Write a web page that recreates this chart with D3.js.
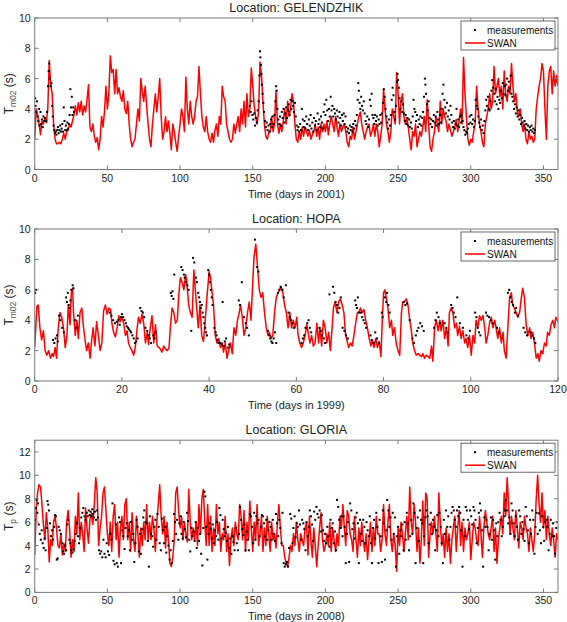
<!DOCTYPE html>
<html><head><meta charset="utf-8">
<script src="https://cdn.jsdelivr.net/npm/d3@7"></script>
<style>
body{margin:0;background:#fff;}
svg{display:block;font-family:"Liberation Sans",Arial,Helvetica,sans-serif;}
</style></head>
<body><svg id="chart" width="567" height="622"></svg>
<script>
// ---------------- DATA ----------------
const titles = ["Location: GELENDZHIK", "Location: HOPA", "Location: GLORIA"];
const xLabels = ["Time (days in 2001)", "Time (days in 1999)", "Time (days in 2008)"];
const yLabelSub = ["m02", "m02", "p"];
const xTicks1 = [0,50,100,150,200,250,300,350];
const xTicks2 = [0,20,40,60,80,100,120];
const xTicks3 = [0,50,100,150,200,250,300,350];
const yTicks1 = [0,2,4,6,8,10];
const yTicks2 = [0,2,4,6,8,10];
const yTicks3 = [0,2,4,6,8,10,12];
const legendLabels = ["measurements", "SWAN"];

// SWAN, Gelendzhik 2001, one value per day (day 0..360)
const swan1 = [
2.0,4.0,3.6,3.0,2.3,3.2,3.0,3.4,3.1,4.0,
7.2,5.6,5.0,3.0,2.0,1.7,1.7,1.8,1.7,2.0,
2.4,2.0,2.5,2.6,3.0,2.8,3.2,3.6,4.2,3.6,
4.4,3.8,4.5,3.6,4.2,3.8,4.6,5.6,2.8,2.5,
3.0,2.2,1.8,2.1,1.3,2.0,3.5,2.8,3.8,5.5,
4.0,5.0,7.5,6.4,6.6,5.0,6.6,5.0,5.4,4.8,
4.5,5.2,4.0,3.7,4.5,3.0,2.0,1.5,1.8,2.0,
3.0,4.0,3.2,6.0,5.2,4.5,5.5,4.2,3.0,2.0,
1.5,3.0,4.0,5.0,3.8,4.8,6.0,3.5,2.0,2.5,
3.5,2.5,3.2,2.4,1.3,3.0,2.5,1.8,1.2,2.2,
3.0,4.0,3.5,2.5,6.1,4.0,3.0,4.5,3.5,3.0,
3.5,4.5,4.8,6.8,5.0,3.5,2.8,2.5,3.5,2.5,
2.0,1.8,2.4,1.8,2.6,3.0,2.2,3.5,3.0,5.5,
4.8,4.5,3.0,2.5,2.0,1.8,2.0,3.0,2.4,3.0,
3.5,2.5,4.0,3.0,4.5,2.8,5.0,3.5,4.0,6.7,
5.5,4.2,3.5,3.0,3.8,7.1,6.2,4.5,3.0,2.2,
2.0,2.4,2.5,3.5,2.5,3.0,5.2,3.0,2.4,3.0,
2.5,3.2,4.0,3.0,4.5,3.5,4.0,5.0,4.5,3.0,
2.0,1.8,2.5,2.0,2.8,2.2,2.8,2.5,2.2,2.6,
2.0,2.3,2.5,3.0,2.2,2.8,2.0,3.0,2.5,3.0,
2.5,3.2,2.3,3.0,3.5,3.0,2.5,3.5,2.8,2.2,
3.0,2.5,2.8,3.0,2.5,1.8,1.5,2.2,2.0,2.8,
2.0,2.5,3.0,3.5,3.8,3.0,2.5,2.0,2.5,2.8,
3.0,2.2,2.5,3.0,2.2,3.0,2.5,1.5,2.2,3.0,
5.3,4.0,3.0,2.5,1.8,2.5,4.0,3.5,3.0,6.4,
5.0,3.0,4.5,5.0,3.5,3.0,3.4,2.8,2.0,1.3,
2.5,2.2,3.0,1.5,2.0,2.5,2.2,2.8,3.5,2.5,
4.6,3.0,1.5,1.2,2.0,2.5,3.5,3.0,2.5,4.5,
3.0,4.0,3.5,3.2,2.5,3.0,2.6,2.2,2.5,2.8,
3.3,2.5,3.2,4.0,3.0,7.4,5.0,3.5,2.0,1.6,
2.0,1.8,2.5,3.0,5.5,4.0,3.0,2.5,1.8,1.5,
3.0,3.5,4.0,5.0,4.0,4.5,6.8,5.0,5.5,6.0,
4.8,5.5,4.0,6.5,5.0,4.5,5.5,5.0,7.0,5.5,
4.5,5.0,3.8,3.5,4.0,3.0,2.5,3.0,2.0,1.7,
2.5,2.0,2.2,1.8,2.0,4.0,4.8,5.5,6.0,7.0,
6.5,4.0,2.0,5.5,6.5,6.8,5.0,6.5,5.5,6.2,5.5];

// Measurements, Gelendzhik [day, Tm02]
const meas1 = [
[0.3,4.7],[0.6,4.2],[1,3.8],[1.5,4.5],[2,3.5],[2.5,3.2],[3,4.0],[3.3,2.9],[4,3.8],[4.5,3.0],[5,3.3],[5.5,2.8],[6,3.5],[6.5,3.2],[7,3.4],[8,3.2],[8.5,3.8],
[9.2,5.5],[9.6,6.5],[10,7.0],[10.4,6.0],[11,5.5],[11.5,5.7],[12,4.2],
[12.5,3.5],[13,2.9],[13.5,2.6],[14,2.4],[14.5,2.5],[15,2.3],[15.5,2.6],[16,2.8],[16.5,2.4],[17,2.6],[17.5,2.9],[18,2.5],[18.5,2.7],[19,3.0],[19.5,2.5],[20,4.1],[20.5,3.2],[21,2.6],[21.5,2.9],[22,2.6],[22.5,3.1],[23,2.7],[23.5,3.0],[24,3.6],[24.5,5.3],[25,4.1],[25.5,4.8],[26,3.6],[26.5,4.1],[27,3.8],
[148,4.2],[148.6,3.8],[149.2,4.5],[149.8,3.6],[150.4,3.3],[151,3.7],[151.6,2.9],[152.2,3.4],[152.8,3.1],[153.4,3.9],[154,4.5],[154.6,6.2],[155,7.8],[155.3,7.4],[155.6,6.9],[156,6.3],[156.4,5.6],[156.8,5.0],[157.3,4.4],[157.8,3.8],[158.4,3.2],[159,2.8],[159.6,3.1],[160.2,2.6],[160.8,2.9],[161.4,2.5],[162,3.0],[162.6,3.3],[163.2,2.8],[163.8,3.5],[164.4,3.0],[165,3.6],[165.6,4.5],[166.1,5.5],[166.5,5.2],[167,4.0],[167.6,3.3],[168.2,3.0],[168.8,3.5],[169.4,2.9],[170,3.8],[170.6,3.4],[171.2,4.0],[171.8,3.1],[172.4,3.7],[173,4.1],[173.6,3.4],[174.2,3.9],[174.8,4.3],[175.4,3.6],[176,4.6],[176.6,4.0],[177.2,4.5],[177.8,4.2],[178.4,3.8],[179,4.4],[179.6,3.5],
[180.2,2.9],[180.8,2.6],[181.4,2.8],[182,2.5],[182.6,3.0],[183.2,2.6],[183.8,4.0],[184.4,3.3],[185,2.8],[185.6,3.2],[186.2,2.7],[186.8,3.5],[187.4,3.0],[188,2.6],[188.6,3.3],[189.2,2.9],[189.8,3.6],[190.4,2.7],[191,3.1],[191.6,2.5],[192.2,3.4],[192.8,2.9],[193.4,3.2],[194,2.6],[194.6,3.7],[195.2,3.0],[195.8,3.3],[196.4,2.8],[197,3.5],[197.6,3.1],[198.2,2.7],[198.8,3.8],[199.4,4.3],[200,3.6],[200.6,4.6],[201.2,3.9],[201.8,3.2],[202.4,4.0],[203,3.5],[203.6,4.8],[204.2,3.9],[204.8,4.2],[205.4,3.5],[206,4.0],[206.6,3.7],[207.2,3.3],[207.8,3.9],[208.4,3.5],[209,3.1],[209.6,3.8],[210.2,3.4],[210.8,2.9],[211.4,3.6],[212,3.2],[212.6,3.7],[213.2,3.0],[213.8,3.5],[214.4,2.8],[215,2.5],[215.6,2.7],[216.2,2.4],[216.8,2.9],[217.4,2.6],[218,2.8],[218.6,2.5],[219.2,3.0],[219.8,2.7],
[220.4,3.2],[221,2.9],[221.6,3.6],[222.2,4.6],[222.6,5.7],[223,5.2],[223.5,4.4],[224,4.0],[224.6,4.8],[225.2,4.2],[225.8,3.9],[226.4,4.5],[227,3.7],[227.6,3.2],[228.2,3.0],[228.8,3.5],[229.4,2.8],[230,3.3],[230.6,4.6],[231.2,4.2],[231.8,5.0],[232.4,3.6],[233,3.4],[233.6,3.0],[234.2,3.6],[234.8,3.2],[235.4,3.5],[236,2.9],[236.6,3.3],[237.2,3.0],[237.8,3.6],[238.4,3.1],[239,3.7],[239.6,4.4],[240.2,5.3],[240.8,4.8],[241.4,4.0],[242,3.5],[242.6,3.1],[243.2,2.7],[243.8,3.3],[244.4,2.9],[245,3.6],[245.6,4.6],[246.2,5.4],[246.8,4.9],[247.4,3.8],[248,3.3],[248.6,4.2],[249.2,5.8],[249.6,6.3],[250,5.9],[250.5,5.4],[251,4.7],[251.6,4.0],[252.2,4.5],[252.8,3.8],[253.4,4.3],[254,3.7],[254.6,3.2],[255.2,3.6],[255.8,3.0],[256.4,3.4],[257,2.9],[257.6,3.3],[258.2,2.8],[258.8,3.1],[259.4,2.7],
[260,3.5],[260.6,4.6],[261.2,4.0],[261.8,3.8],[262.4,3.2],[263,3.6],[263.6,2.8],[264.2,3.3],[264.8,3.0],[265.4,3.5],[266,2.9],[266.6,3.4],[267.2,3.8],[267.8,4.8],[268.4,6.0],[268.8,5.6],[269.2,5.0],[269.8,4.3],[270.4,3.9],[271,4.5],[271.6,3.4],[272.2,3.0],[272.8,3.3],[273.4,2.8],[274,3.2],[274.6,3.6],[275.2,3.1],[275.8,3.5],[276.4,2.9],[277,3.8],[277.6,3.3],[278.2,3.0],[278.8,3.6],[279.4,3.1],[280,4.0],[280.6,5.0],[281.2,5.6],[281.8,4.6],[282.4,4.1],[283,3.7],[283.6,4.4],[284.2,3.5],[284.8,3.9],[285.4,3.3],[286,4.2],[286.6,3.6],[287.2,3.1],[287.8,2.8],[288.4,3.2],[289,2.7],[289.6,3.0],[290.2,4.0],[290.8,2.9],[291.4,3.3],[292,2.8],[292.6,3.5],[293.2,3.1],[293.8,3.6],[294.4,3.2],[295,2.8],[295.6,2.6],[296.2,2.3],[296.8,2.5],[297.4,2.4],[298,2.7],[298.6,3.0],[299.2,3.5],[299.8,3.1],
[300.4,3.6],[301,3.0],[301.6,3.3],[302.2,2.8],[302.8,3.2],[303.4,4.6],[304,4.2],[304.6,4.0],[305.2,3.5],[305.8,3.1],[306.4,2.8],[307,3.3],[307.6,2.6],[308.2,2.9],[308.8,2.4],[309.4,3.2],[310,3.9],[310.6,4.6],[311.2,4.2],[311.8,4.8],[312.4,4.0],[313,3.9],[313.6,4.5],[314.2,5.2],[314.8,5.9],[315.4,5.4],[316,5.0],[316.6,4.5],[317.2,5.3],[317.8,4.3],[318.4,4.8],[319,4.0],[319.6,4.6],[320.2,4.4],[320.8,5.2],[321.4,4.7],[322,5.7],[322.6,5.0],[323.2,5.5],[323.8,4.9],[324.4,5.6],[325,6.0],[325.6,5.2],[326.2,5.8],[326.8,5.4],[327.4,6.2],[328,5.0],[328.6,4.8],[329.2,4.5],[329.8,4.0],[330.4,4.3],[331,3.7],[331.6,4.1],[332.2,3.5],[332.8,3.9],[333.4,3.3],[334,3.6],[334.6,3.0],[335.2,3.4],[335.8,3.1],[336.4,2.9],[337,3.2],[337.6,2.7],[338.2,3.0],[338.8,2.6],[339.4,2.9],[340,2.5],[340.6,2.8],[341.2,2.6],[341.8,2.9],[342.4,2.5],[343,2.7],[343.6,2.4],[344.2,2.6]];

// SWAN, Hopa 1999 [day, Tm02]
const swan2 = [
[0,2.2],[0.5,4.9],[0.8,5.0],[1.2,3.5],[1.6,2.7],[2,3.3],[2.4,2.0],[2.8,1.7],[3.2,2.0],[3.6,1.5],[4,1.8],[4.3,1.6],[4.7,2.2],[5,1.5],[5.4,3.5],[5.8,4.5],[6.2,4.2],[6.6,3.5],[7,2.2],[7.4,3.0],[7.7,5.0],[8.1,3.7],[8.4,5.8],[8.7,6.1],[8.9,4.5],[9.3,3.0],[9.7,4.0],[10,2.8],[10.4,4.5],[10.8,4.8],[11.2,3.5],[11.6,2.6],[11.9,2.0],[12.3,2.5],[12.7,1.5],[13,2.5],[13.4,3.5],[13.8,2.3],[14.2,3.9],[14.6,3.0],[15,2.0],[15.4,2.5],[15.8,4.6],[16.2,5.0],[16.6,4.4],[17,4.8],[17.4,4.7],[17.7,3.8],[18.1,3.2],[18.5,2.9],[18.9,3.5],[19.3,4.3],[19.6,3.9],[20,4.2],
[20.4,3.8],[20.8,3.0],[21.2,3.3],[21.5,2.5],[21.9,2.2],[22.3,2.0],[22.7,1.7],[23.1,2.3],[23.5,3.5],[23.8,4.2],[24.2,3.8],[24.6,4.4],[25,3.8],[25.4,2.5],[25.8,3.2],[26.1,2.4],[26.5,3.5],[26.9,4.3],[27.3,2.5],[27.7,3.7],[28.1,2.3],[28.5,2.2],[28.8,2.1],[29.2,1.9],[29.6,2.3],[30,2.1],[30.4,2.0],[30.8,2.2],[31.1,3.5],[31.5,4.8],[31.9,4.5],[32.3,3.8],[32.7,4.0],[33,5.5],[33.4,6.8],[33.8,6.5],[34.2,6.0],[34.6,7.0],[34.9,6.5],[35.3,5.0],[35.7,4.5],[36.1,4.2],[36.5,7.3],[37.1,5.0],[37.5,3.5],[37.9,5.0],[38.3,3.0],[38.7,2.6],[39.1,4.0],[39.5,5.5],[40,7.2],[40.3,6.8],
[41,5.0],[41.4,3.0],[41.8,2.5],[42.2,2.8],[42.6,2.2],[43,2.5],[43.3,1.9],[43.7,2.5],[44.1,1.5],[44.5,2.0],[44.9,2.5],[45.3,1.8],[45.7,3.5],[46.1,3.0],[46.5,4.0],[46.9,4.5],[47.2,5.0],[47.6,4.2],[48,3.0],[48.4,3.5],[48.8,4.5],[49.2,5.2],[49.6,4.0],[50,6.5],[50.3,8.2],[50.7,9.0],[51.1,7.5],[51.5,6.0],[51.9,5.5],[52.3,5.8],[52.7,4.5],[53.1,3.5],[53.5,3.0],[53.8,3.2],[54.2,2.8],[54.6,3.0],[55,4.5],[55.4,5.5],[55.8,5.8],[56.2,6.0],[56.5,6.2],[56.9,5.8],[57.3,5.0],[57.7,4.5],[58.1,3.5],[58.5,4.5],[58.9,3.5],[59.3,4.0],[59.7,3.5],[60.1,4.2],
[60.4,3.0],[60.8,2.5],[61.2,2.2],[61.6,2.5],[62,3.0],[62.4,3.7],[62.7,3.2],[63.1,2.5],[63.5,3.0],[63.9,2.3],[64.3,2.5],[64.7,3.8],[65.1,2.5],[65.4,3.5],[65.8,2.3],[66.2,4.0],[66.6,3.5],[67,2.5],[67.4,3.2],[67.8,2.0],[68.2,3.5],[68.5,4.8],[68.9,5.2],[69.3,4.5],[69.7,5.2],[70.1,5.4],[70.5,5.0],[70.9,4.5],[71.3,3.0],[71.6,2.7],[72,2.2],[72.4,2.5],[72.8,2.3],[73.2,3.0],[73.6,3.8],[74,4.5],[74.3,4.5],[74.7,4.8],[75.1,4.5],[75.5,4.7],[75.9,4.0],[76.3,3.5],[76.7,2.8],[77.1,2.3],[77.4,2.7],[77.8,2.2],[78.2,2.8],[78.6,2.2],[79,2.6],[79.4,1.6],[79.7,4.0],
[80,5.8],[80.3,6.0],[80.6,5.5],[81,4.8],[81.4,3.5],[81.8,4.0],[82.1,3.0],[82.5,3.5],[82.9,2.5],[83.3,2.0],[83.7,1.7],[84.1,4.5],[84.4,5.2],[84.8,5.2],[85.2,5.4],[85.6,5.0],[86,4.0],[86.3,3.5],[86.7,2.5],[87.1,2.0],[87.5,1.7],[87.9,1.8],[88.3,1.7],[88.7,1.6],[89,1.8],[89.4,1.5],[89.8,1.7],[90.2,1.6],[90.6,1.5],[91,2.3],[91.3,1.3],[91.7,3.5],[92.1,4.0],[92.5,3.3],[92.9,4.0],[93.2,3.3],[93.6,4.0],[94,2.8],[94.4,3.5],[94.8,2.3],[95.1,4.5],[95.5,4.8],[95.9,4.5],[96.3,3.5],[96.7,3.8],[97,3.0],[97.4,3.6],[97.8,2.8],[98.2,3.3],[98.6,2.5],[98.9,2.8],[99.3,2.2],[99.7,3.0],
[100.1,1.7],[100.5,3.0],[100.9,2.5],[101.2,4.0],[101.6,3.5],[102,4.3],[102.4,4.0],[102.8,4.3],[103.2,3.5],[103.5,2.5],[103.9,3.0],[104.3,3.8],[104.7,4.2],[105.1,3.5],[105.5,4.0],[105.8,3.5],[106.2,2.8],[106.6,3.5],[107,2.5],[107.4,3.2],[107.7,2.0],[108.1,1.5],[108.5,3.5],[108.9,5.5],[109.3,5.8],[109.6,5.0],[110,4.8],[110.4,4.5],[110.8,4.2],[111.2,4.5],[111.6,5.5],[111.9,6.1],[112.3,5.5],[112.7,3.7],[113.1,3.0],[113.5,3.5],[113.8,2.8],[114.2,3.2],[114.6,2.5],[115,1.5],[115.4,1.8],[115.7,1.3],[116.1,2.0],[116.5,1.8],[116.9,2.5],[117.3,2.3],[117.6,3.2],[118,3.0],[118.4,3.7],[118.8,4.0],[119.2,3.5],[119.5,4.2],[120,3.9]];

// Measurements, Hopa [day, Tm02]
const meas2 = [
[0.1,5.8],[0.3,6.0],[4.2,2.7],[4.5,2.5],[4.8,2.8],[5.1,3.0],[5.3,2.6],[5.6,4.3],[5.9,4.0],[6.3,3.5],[6.7,3.2],[7.2,5.5],[7.4,5.2],[7.6,5.8],[7.8,5.0],[8,4.8],[8.2,5.3],[8.4,6.0],[8.7,6.3],[8.9,6.1],[9.3,4.0],[9.6,3.5],[9.9,4.3],
[17.2,4.5],[17.6,4.3],[18,4.0],[18.4,3.8],[18.8,3.9],[19.2,4.0],[19.5,3.7],[19.8,4.2],[20,4.4],[20.3,4.2],[20.6,4.0],[20.9,3.8],[21.1,3.6],[21.4,3.5],[21.6,3.4],[21.9,3.3],[22.1,3.2],[22.4,3.0],[22.7,2.8],[23,2.5],[23.3,2.6],[23.6,2.8],[24.2,4.8],[24.5,4.6],[24.8,4.5],[25.1,4.2],[25.4,3.5],[25.8,3.3],[26.1,3.0],[26.4,2.8],[26.7,2.5],[27.2,3.0],[27.5,2.8],[27.8,3.2],
[31.2,5.8],[31.4,5.6],[31.6,5.9],[31.8,5.4],[32,7.0],[33.6,7.5],[33.9,7.3],[34.2,7.0],[34.4,6.8],[34.7,6.5],[35,6.3],[35.3,6.0],[35.9,3.3],[36.3,8.1],[36.6,7.8],[37,6.8],[37.2,6.5],[37.5,5.8],[37.7,5.5],[37.9,5.2],[38.1,4.8],[38.3,5.0],[38.5,4.5],[38.7,4.2],[38.9,3.8],[39.1,3.5],[39.3,3.2],[39.5,3.0],[39.8,7.3],[40,7.0],[40.2,6.5],[40.4,6.0],[40.6,5.5],[40.8,5.0],[41.2,3.5],[41.5,3.2],[41.7,3.0],[41.9,2.7],[42.2,2.5],[42.6,2.5],[42.9,2.4],[43.1,5.2],[43.3,2.3],[43.6,2.6],[43.9,2.8],[44.3,2.2],[44.6,2.4],
[46.8,5.3],[47.1,5.0],[47.5,6.5],[48,4.2],[48.4,3.8],[48.7,3.5],[49.1,3.0],[50.5,9.3],[51,7.5],[51.3,7.2],[53.5,3.3],[53.8,3.0],[54,2.8],[54.3,2.6],[54.5,2.5],[54.8,2.8],[55.1,3.2],[55.4,2.5],[55.8,5.8],[56.1,6.0],[56.4,6.2],[56.8,6.0],[57.1,5.5],[57.6,6.3],[58.2,4.5],[58.5,4.2],[58.8,4.0],[59.1,3.8],[59.4,3.5],
[61.2,2.5],[61.5,2.8],[61.8,3.0],[62.1,3.5],[62.5,3.8],[62.8,4.0],[63.1,3.5],[63.4,3.2],[65.3,3.5],[65.6,3.3],[65.9,3.0],[66.3,2.8],[66.6,2.5],[67.6,5.7],[68.4,6.2],[68.7,5.8],[69,5.2],[69.3,5.0],[69.6,4.5],[69.9,4.8],[70.2,5.5],[70.6,3.5],[71,3.3],[71.4,3.0],[71.8,2.8],[73.5,5.3],[73.7,5.0],[73.9,4.8],[74.1,5.5],[74.4,4.5],[74.8,4.5],[75.1,4.2],[75.4,4.0],[75.7,3.8],[76,3.5],[77,3.0],[77.3,2.7],[77.7,2.5],[78.1,3.2],[78.5,2.8],[78.9,2.5],[79.6,4.5],[79.8,4.2],
[80.3,5.5],[80.6,5.2],[80.8,5.8],[81.1,5.0],[81.4,4.5],[84.6,5.2],[85,5.0],[85.4,5.1],[86,4.0],[86.6,2.8],[87,2.5],[87.4,3.0],[87.7,3.3],[88,3.5],[88.4,3.8],[88.8,3.6],[89.2,3.3],[91.6,3.5],[91.9,4.0],[92.2,4.5],[92.6,4.2],[93,3.8],[94,3.8],[94.4,3.5],[94.8,3.2],[95.5,5.0],[95.8,4.8],[96.1,4.5],[96.5,4.2],[96.9,5.5],[97.5,3.8],[98.2,3.5],[99,3.0],[99.4,2.8],[99.8,3.3],
[101,4.5],[101.3,4.2],[101.6,3.5],[101.9,3.2],[102.2,3.0],[103.5,4.5],[103.8,4.3],[104.2,4.2],[104.6,4.0],[105,3.8],[106,3.5],[106.4,3.2],[108.5,5.8],[108.8,6.0],[109.1,5.5],[109.4,5.2],[109.7,5.0],[110.1,4.5],[110.4,4.8],[110.8,4.3],[112.1,3.5],[112.5,3.2],[112.9,3.0],[113.8,3.2],[114.1,3.0],[114.5,2.8],[114.8,2.5]];

// SWAN, Gloria 2008, one value per day (day 0..360), Tp
const swan3 = [
3.2,7.0,8.5,9.2,9.0,7.5,5.8,4.5,6.8,5.5,
2.6,4.5,4.0,6.0,6.5,5.5,4.0,3.8,5.0,3.2,
4.2,3.5,6.0,7.0,5.5,3.0,4.5,3.5,6.5,5.0,
8.5,4.5,6.0,5.0,3.5,7.2,5.5,4.2,6.2,6.8,
5.8,7.5,9.8,8.5,4.0,5.5,6.5,8.5,9.0,7.0,
5.0,4.0,6.0,3.5,6.5,7.5,4.5,6.0,3.0,5.5,
6.5,4.5,7.5,8.0,4.5,6.0,3.5,6.8,4.5,3.5,
6.5,5.0,3.0,5.5,4.0,6.0,4.5,7.5,4.5,6.0,
4.5,6.5,5.5,3.5,6.0,7.5,9.2,6.5,5.0,6.5,
3.8,6.0,4.5,2.5,2.2,3.0,4.5,8.5,9.0,7.0,
5.5,6.5,4.5,6.0,5.0,4.3,8.8,6.0,4.5,5.5,
4.5,6.0,4.0,7.5,5.0,8.0,8.8,6.0,4.0,7.5,
4.0,6.5,3.5,5.5,4.0,7.5,5.0,6.0,3.5,5.0,
4.5,6.5,3.5,5.0,2.3,4.5,5.5,4.0,6.0,5.0,
4.5,7.5,6.5,4.5,7.0,3.5,6.0,4.5,7.8,5.5,
3.5,6.0,4.5,7.5,4.0,5.0,6.5,3.5,5.5,4.0,
6.5,5.0,3.5,6.0,4.5,5.0,3.8,6.0,7.5,5.5,
4.0,4.0,3.0,2.5,2.2,3.0,4.0,3.5,5.0,4.0,
6.0,4.5,3.5,5.0,4.5,4.0,5.5,6.0,3.2,6.5,
4.5,3.0,5.5,4.0,2.2,4.0,5.5,6.8,4.5,3.5,
4.0,5.0,4.0,6.0,3.5,5.5,4.5,3.5,5.0,4.0,
6.5,5.5,7.5,5.5,4.0,7.0,6.5,5.0,4.5,3.5,
6.5,4.5,3.0,5.5,4.0,6.0,4.5,3.5,5.0,2.8,
4.5,6.0,3.5,5.5,4.0,6.5,5.0,5.0,3.5,4.5,
7.5,5.0,4.0,6.0,7.5,4.5,3.5,5.0,4.0,1.8,
5.5,4.0,6.0,5.0,3.5,5.0,6.5,4.5,9.0,6.0,
5.0,7.5,6.0,3.5,5.5,2.5,4.5,7.8,4.0,8.5,
8.0,3.0,5.0,6.0,5.0,6.5,5.0,3.5,8.5,6.0,
4.0,5.0,3.0,5.5,3.5,5.0,2.5,4.5,5.5,6.5,
3.5,5.5,7.0,4.0,6.0,3.5,5.5,4.5,5.0,6.0,
2.8,4.5,6.0,5.5,4.5,4.0,6.5,5.0,3.0,5.5,
7.0,6.0,5.0,4.5,5.5,6.5,3.5,5.5,2.5,4.5,
5.5,6.5,5.0,8.5,6.5,9.8,7.5,5.0,6.5,5.5,
4.5,7.0,5.5,3.8,6.0,5.5,4.5,6.5,5.5,5.0,
3.5,5.5,4.5,3.5,5.0,8.0,10.0,7.5,6.0,8.5,
5.5,7.0,4.5,6.5,5.0,4.0,5.5,4.5,3.0,5.0,4.5];

// Measurements, Gloria [day, Tp]
const meas3 = [
[0.3,6.2],[0.8,7.2],[1.3,7.9],[1.8,6.8],[2.3,7.6],[2.8,5.8],[3.5,5.0],[4.2,4.5],[4.8,5.3],[5.5,4.2],[6.2,3.8],[6.8,4.6],[7.5,3.6],[8.2,5.5],[8.8,7.8],[9.3,7.5],[9.8,7.0],[10.5,5.9],[11.2,4.8],[12,5.3],[12.7,4.5],[13.4,5.6],[14,6.6],[14.6,6.5],[15.2,2.8],[15.8,2.9],[16.5,5.6],[17.2,5.3],[18,5.0],[18.8,4.2],[19.5,3.5],[20.2,3.3],[21,4.0],[21.7,3.6],[22.4,5.8],[23.1,6.2],[23.8,4.5],[24.5,4.2],[25.3,3.6],[26,3.4],[26.8,3.7],[27.5,4.4],[28.3,5.0],[29,5.9],[29.8,4.8],[30.5,4.2],[31.3,5.5],[32,6.4],[32.8,6.8],[33.5,7.2],[34.3,6.5],[35,6.2],[35.8,6.8],[36.5,6.5],[37.2,7.0],[37.8,6.6],[38.4,6.9],[39,6.5],[39.6,7.1],[40.2,6.7],[40.8,6.4],[41.5,6.9],[42.2,6.2],[42.9,7.0],[43.6,6.4],[44.3,3.6],[45,3.3],[45.8,3.5],[46.5,3.0],[47.3,4.5],[48,3.3],[48.8,3.0],[49.6,4.2],[50.4,3.5],[51.2,3.2],[52,5.0],[52.8,4.5],[53.5,7.6],[54.2,2.7],[55,2.4],[55.8,5.8],[56.5,2.5],[57.2,2.2],[58,6.4],[58.7,6.0],[59.4,2.5],
[60.2,5.3],[61,4.8],[61.8,3.7],[62.5,5.5],[63.3,5.9],[64,4.8],[64.8,5.3],[65.5,3.6],[66.3,6.0],[67,4.5],[67.8,5.0],[68.5,2.6],[69.3,4.2],[70.1,6.2],[70.8,5.6],[71.6,3.5],[72.4,5.0],[73.1,3.3],[73.9,5.4],[74.7,6.4],[75.4,7.0],[76.2,6.0],[77,5.9],[77.8,4.4],[78.5,2.2],[79.3,6.5],[80,5.0],[80.8,4.8],[81.5,3.9],[82.3,5.6],[83,6.2],[83.8,4.5],[84.5,6.7],[85.3,5.6],[86,4.2],[86.8,3.6],[87.5,6.3],[88.3,5.3],[89,4.2],[89.8,5.6],[90.5,3.4],[91.3,4.8],[92,4.0],[92.8,2.8],[93.5,3.6],[94.3,2.5],[95,4.4],[95.8,6.7],[96.5,6.0],[97.3,5.0],[98,6.2],[98.8,4.5],[99.5,5.9],[100.3,6.5],[101,5.0],[101.8,4.6],[102.5,6.0],[103.3,5.4],[104,4.7],[104.8,6.8],[105.5,6.1],[106.3,4.5],[107,3.5],[107.8,5.5],[108.5,4.8],[109.3,5.2],[110,4.4],[110.8,6.0],[111.5,3.8],[112.3,5.5],[113,4.4],[113.8,5.0],[114.5,3.3],[115.3,2.3],[116,5.5],[116.8,8.6],[117.4,8.2],[118,5.6],[118.8,2.8],[119.5,5.0],
[120.3,5.9],[121,5.4],[121.8,4.6],[122.5,5.8],[123.3,4.2],[124,5.3],[124.8,4.8],[125.5,6.0],[126.3,4.5],[127,7.2],[127.8,6.6],[128.5,4.6],[129.3,6.2],[130,5.4],[130.8,4.8],[131.5,5.1],[132.3,4.4],[133,5.6],[133.8,3.8],[134.5,4.6],[135.3,3.3],[136,4.8],[136.8,4.3],[137.5,3.6],[138.3,5.5],[139,4.2],[139.8,3.6],[140.5,5.0],[141.3,7.3],[142,6.2],[142.8,5.4],[143.5,4.9],[144.3,5.8],[145,3.6],[145.8,5.2],[146.5,4.5],[147.3,3.6],[148,6.7],[148.8,6.5],[149.5,5.6],[150.3,4.2],[151,6.8],[151.8,4.5],[152.5,6.5],[153.3,5.9],[154,6.2],[154.8,4.8],[155.5,5.6],[156.3,6.6],[157,6.5],[157.8,5.9],[158.5,4.8],[159.3,6.2],[160,4.5],[160.8,5.3],[161.5,6.0],[162.3,5.6],[163,4.5],[163.8,6.2],[164.5,5.0],[165.3,4.4],[166,6.7],[166.8,5.9],[167.5,4.8],[168.3,6.2],[169,5.5],[169.8,4.2],[170.5,6.8],[171.3,2.5],[172,2.2],[172.8,2.4],[173.5,2.6],[174.3,2.2],[175,3.8],[175.8,6.7],[176.5,6.3],[177.3,4.2],[178,5.5],[178.8,6.5],[179.5,4.7],
[180.3,5.9],[181,5.6],[181.8,7.0],[182.5,5.8],[183.3,4.5],[184,6.2],[184.8,5.9],[185.5,5.4],[186.3,3.6],[187,6.0],[187.8,4.8],[188.5,5.6],[189.3,7.0],[190,6.5],[190.8,5.8],[191.5,4.4],[192.3,6.9],[193,6.2],[193.8,7.3],[194.5,6.7],[195.3,6.4],[196,7.0],[196.8,5.2],[197.5,6.6],[198.3,5.3],[199,4.4],[199.8,5.0],[200.5,4.2],[201.3,5.6],[202,4.8],[202.8,3.9],[203.5,6.2],[204.3,5.5],[205,5.9],[205.8,4.2],[206.5,5.2],[207.3,3.6],[208,7.9],[208.8,7.3],[209.5,6.2],[210.3,5.5],[211,6.5],[211.8,4.8],[212.5,6.5],[213.3,5.6],[214,2.5],[214.8,5.0],[215.5,6.0],[216.3,2.6],[217,7.6],[217.8,7.0],[218.5,5.4],[219.3,5.9],[220,4.6],[220.8,6.4],[221.5,6.8],[222.3,5.9],[223,2.5],[223.8,6.2],[224.5,5.0],[225.3,4.4],[226,6.2],[226.8,5.6],[227.5,4.2],[228.3,6.0],[229,5.3],[229.8,4.8],[230.5,6.5],[231.3,4.2],[232,2.5],[232.8,5.5],[233.5,6.2],[234.3,4.6],[235,6.8],[235.8,5.6],[236.5,2.5],[237.3,6.2],[238,4.8],[238.8,2.6],[239.5,7.0],
[240.3,5.9],[241,2.8],[241.8,5.3],[242.5,7.9],[243.3,7.0],[244,5.6],[244.8,6.4],[245.5,4.5],[246.3,6.8],[247,5.0],[247.8,6.4],[248.5,2.2],[249.3,4.8],[250,5.6],[250.8,3.3],[251.5,5.3],[252.3,4.8],[253,5.8],[253.8,3.6],[254.5,6.0],[255.3,4.5],[256,6.8],[256.8,5.9],[257.5,3.6],[258.3,4.8],[259,6.2],[259.8,5.0],[260.5,7.6],[261.3,6.8],[262,2.5],[262.8,5.5],[263.5,6.4],[264.3,4.4],[265,7.0],[265.8,6.2],[266.5,5.9],[267.3,2.5],[268,4.8],[268.8,6.4],[269.5,7.0],[270.3,6.5],[271,4.2],[271.8,5.8],[272.5,6.8],[273.3,5.0],[274,6.2],[274.8,5.6],[275.5,3.6],[276.3,5.3],[277,6.6],[277.8,4.8],[278.5,6.8],[279.3,5.6],[280,4.2],[280.8,2.5],[281.5,6.2],[282.3,5.0],[283,7.0],[283.8,5.6],[284.5,6.5],[285.3,4.5],[286,5.6],[286.8,6.8],[287.5,7.3],[288.3,7.0],[289,6.2],[289.8,5.6],[290.5,7.0],[291.3,6.5],[292,7.3],[292.8,6.8],[293.5,5.3],[294.3,2.2],[295,6.2],[295.8,4.8],[296.5,7.3],[297.3,7.0],[298,6.2],[298.8,5.4],[299.5,7.0],
[300.3,6.5],[301,5.8],[301.8,7.3],[302.5,7.0],[303.3,6.2],[304,4.2],[304.8,5.5],[305.5,6.8],[306.3,7.6],[307,7.0],[307.8,5.3],[308.5,2.2],[309.3,6.4],[310,5.6],[310.8,6.2],[311.5,5.6],[312.3,3.6],[313,5.0],[313.8,6.4],[314.5,4.5],[315.3,6.2],[316,5.3],[316.8,2.8],[317.5,5.9],[318.3,4.8],[319,6.0],[319.8,6.8],[320.5,6.2],[321.3,4.8],[322,5.6],[322.8,6.5],[323.5,7.0],[324.3,7.9],[325,7.0],[325.8,5.9],[326.5,6.4],[327.3,5.0],[328,7.6],[328.8,7.0],[329.5,5.9],[330.3,4.8],[331,6.5],[331.8,5.6],[332.5,4.5],[333.3,7.0],[334,6.5],[334.8,5.0],[335.5,6.0],[336.3,5.4],[337,4.4],[337.8,7.3],[338.5,6.5],[339.3,5.3],[340,4.2],[340.8,6.2],[341.5,5.0],[342.3,7.0],[343,6.2],[343.8,3.3],[344.5,5.6],[345.3,6.8],[346,5.0],[346.8,6.75],[347.5,5.3],[348.3,4.2],[349,6.5],[349.8,5.6],[350.5,4.4],[351.3,6.0],[352,6.2],[352.8,5.6],[353.5,3.6],[354.3,5.0],[355,6.2],[355.8,4.8],[356.5,5.9],[357.3,4.8],[358,3.3],[358.8,5.5],[359.5,6.0]];

// ---------------- DRAW ----------------
const svg = d3.select("#chart");
svg.append("rect").attr("width",567).attr("height",622).attr("fill","#fff");

const panels = [
  {top:18, bottom:169.5, xMax:360, yMax:10, xT:xTicks1, yT:yTicks1,
   swan: swan1.map((v,i)=>[i,v]), meas: meas1},
  {top:229, bottom:381, xMax:120, yMax:10, xT:xTicks2, yT:yTicks2,
   swan: swan2, meas: meas2},
  {top:440.2, bottom:592.4, xMax:360, yMax:13, xT:xTicks3, yT:yTicks3,
   swan: swan3.map((v,i)=>[i,v]), meas: meas3}
];
const left = 34.7, right = 558;
const axisColor = "#7a7a7a";
const tickLen = 4;

panels.forEach((p, k) => {
  const x = d3.scaleLinear().domain([0, p.xMax]).range([left, right]);
  const y = d3.scaleLinear().domain([0, p.yMax]).range([p.bottom, p.top]);
  const g = svg.append("g");
  const clipId = "clip" + k;
  svg.append("clipPath").attr("id", clipId).append("rect")
    .attr("x", left).attr("y", p.top).attr("width", right-left).attr("height", p.bottom-p.top);

  // SWAN line
  g.append("path").datum(p.swan)
    .attr("clip-path", `url(#${clipId})`)
    .attr("fill","none").attr("stroke","#ff0000").attr("stroke-width",1.5)
    .attr("stroke-linejoin","round")
    .attr("d", d3.line().x(d=>x(d[0])).y(d=>y(d[1])));

  // measurements
  g.append("g").attr("clip-path", `url(#${clipId})`)
    .selectAll("rect").data(p.meas).join("rect")
    .attr("x", d=>x(d[0])-1).attr("y", d=>y(d[1])-1)
    .attr("width",2).attr("height",2).attr("fill","#000");

  // frame
  g.append("rect").attr("x",left).attr("y",p.top).attr("width",right-left).attr("height",p.bottom-p.top)
    .attr("fill","none").attr("stroke",axisColor).attr("stroke-width",1);

  // ticks (inside, all four sides)
  p.xT.forEach(t => {
    const xx = x(t);
    g.append("line").attr("x1",xx).attr("x2",xx).attr("y1",p.bottom).attr("y2",p.bottom-tickLen).attr("stroke",axisColor);
    g.append("line").attr("x1",xx).attr("x2",xx).attr("y1",p.top).attr("y2",p.top+tickLen).attr("stroke",axisColor);
    g.append("text").attr("x",xx).attr("y",p.bottom+12).attr("text-anchor","middle")
      .attr("font-size",10.5).attr("fill","#222").text(t);
  });
  p.yT.forEach(t => {
    const yy = y(t);
    g.append("line").attr("x1",left).attr("x2",left+tickLen).attr("y1",yy).attr("y2",yy).attr("stroke",axisColor);
    g.append("line").attr("x1",right).attr("x2",right-tickLen).attr("y1",yy).attr("y2",yy).attr("stroke",axisColor);
    g.append("text").attr("x",left-4).attr("y",yy+4).attr("text-anchor","end")
      .attr("font-size",10.5).attr("fill","#222").text(t);
  });

  // title
  g.append("text").attr("x",(left+right)/2).attr("y",p.top-6).attr("text-anchor","middle")
    .attr("font-size",12.5).attr("fill","#222").text(titles[k]);
  // x label
  g.append("text").attr("x",(left+right)/2).attr("y",p.bottom+28).attr("text-anchor","middle")
    .attr("font-size",11).attr("fill","#222").text(xLabels[k]);
  // y label
  const yl = g.append("text").attr("transform",`translate(13,${(p.top+p.bottom)/2}) rotate(-90)`)
    .attr("text-anchor","middle").attr("font-size",12).attr("fill","#222");
  yl.append("tspan").text("T");
  yl.append("tspan").attr("font-size",8.5).attr("dy",3).attr("fill","#555").text(yLabelSub[k]);
  yl.append("tspan").attr("dy",-3).text(" (s)");

  // legend
  const lx = 461, ly = p.top + 3, lw = 94, lh = 29;
  const lg = g.append("g");
  lg.append("rect").attr("x",lx).attr("y",ly).attr("width",lw).attr("height",lh)
    .attr("fill","#fff").attr("stroke","#444").attr("stroke-width",0.8);
  lg.append("rect").attr("x",lx+13).attr("y",ly+8).attr("width",2).attr("height",2).attr("fill","#000");
  lg.append("line").attr("x1",lx+4).attr("x2",lx+24).attr("y1",ly+22).attr("y2",ly+22)
    .attr("stroke","#ff0000").attr("stroke-width",1.5);
  lg.append("text").attr("x",lx+26).attr("y",ly+12.5).attr("font-size",10).attr("fill","#111").text(legendLabels[0]);
  lg.append("text").attr("x",lx+26).attr("y",ly+26).attr("font-size",10).attr("fill","#111").text(legendLabels[1]);
});
</script></body></html>
